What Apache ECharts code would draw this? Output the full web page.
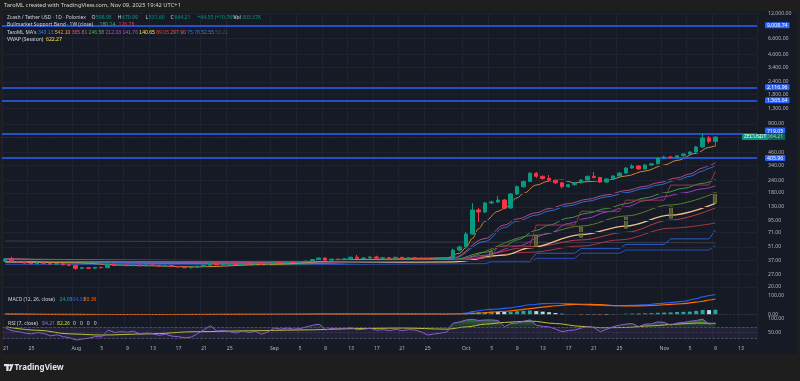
<!DOCTYPE html>
<html><head><meta charset="utf-8">
<script src="https://cdn.jsdelivr.net/npm/echarts@6/dist/echarts.min.js"></script>
<style>
html,body{margin:0;padding:0;background:#1e1e1e;}
#wrap{position:relative;width:800px;height:381px;overflow:hidden;}
#panel{position:absolute;left:3px;top:11px;width:794px;height:343px;background:#161a25;}
#c{position:absolute;left:0;top:0;width:800px;height:381px;}
</style>
</head><body><div id="wrap"><div id="panel"></div><div id="c"></div></div>
<script>
// ---------- categories ----------
const dayCount = 118; // Jul 21 .. Nov 15, 2025
const dates = [];
(function(){const d0=Date.UTC(2025,6,21);for(let i=0;i<dayCount;i++){dates.push(new Date(d0+i*86400000).toISOString().slice(0,10));}})();
const monthNames=['Jan','Feb','Mar','Apr','May','Jun','Jul','Aug','Sep','Oct','Nov','Dec'];
const labelDays=[1,5,9,13,17,21,25];

// ---------- daily candles (Jul 21 .. Nov 9) ----------
const opens  = [36.6,38.4,36.3,35.9,35.0,34.4,35.1,34.8,34.2,34.5,33.6,33.2,30.9,31.3,31.0,31.6,31.4,34.2,33.0,33.3,32.9,33.4,32.8,33.5,33.1,32.6,33.0,32.2,31.9,31.4,31.7,32.4,33.3,35.2,33.6,33.9,34.3,33.8,34.6,34.2,34.7,34.1,34.9,35.9,35.3,35.9,35.5,36.0,36.6,38.0,39.3,37.4,38.3,37.9,38.6,40.1,39.0,39.4,40.3,39.2,39.6,39.3,40.0,39.1,39.5,39.2,38.7,38.0,38.4,38.8,39.4,47.4,50.9,68.9,120.7,115.2,142.2,145.5,152.5,126.5,175.5,208.0,235.0,285.0,265.0,252.0,242.0,228.0,208.0,218.0,228.0,243.0,265.0,258.0,232.0,249.0,267.0,286.0,322.0,337.0,315.0,345.0,355.0,407.0,416.0,410.0,428.0,446.0,468.0,526.0,649.0,598.95];
const closes = [38.4,36.3,35.9,35.0,34.4,35.1,34.8,34.2,34.5,33.6,33.2,30.9,31.3,31.0,31.6,31.4,34.2,33.0,33.3,32.9,33.4,32.8,33.5,33.1,32.6,33.0,32.2,31.9,31.4,31.7,32.4,33.3,35.2,33.6,33.9,34.3,33.8,34.6,34.2,34.7,34.1,34.9,35.9,35.3,35.9,35.5,36.0,36.6,38.0,39.3,37.4,38.3,37.9,38.6,40.1,39.0,39.4,40.3,39.2,39.6,39.3,40.0,39.1,39.5,39.2,38.7,38.0,38.4,38.8,39.4,47.4,50.9,68.9,120.7,115.2,142.2,145.5,152.5,126.5,175.5,208.0,235.0,285.0,265.0,252.0,242.0,228.0,208.0,218.0,228.0,243.0,265.0,258.0,232.0,249.0,267.0,286.0,322.0,337.0,315.0,345.0,355.0,407.0,416.0,410.0,428.0,446.0,468.0,526.0,649.0,598.95,664.21];
const lows   = [35.8,35.9,35.2,34.6,33.9,34.0,34.2,33.6,33.8,33.2,32.6,30.0,30.3,30.5,30.7,30.9,31.0,32.6,32.7,32.5,32.6,32.5,32.6,32.8,32.3,32.4,31.8,31.4,31.0,30.7,31.3,32.1,33.0,33.2,33.3,33.6,33.4,33.5,33.8,34.0,33.7,33.9,34.6,35.0,35.1,35.2,35.2,35.7,36.3,37.7,37.0,37.1,37.5,37.6,38.3,38.6,38.7,39.0,38.8,38.9,38.9,39.0,38.7,38.8,38.8,38.2,37.6,37.7,38.1,38.5,39.0,46.0,50.0,67.5,91.0,112.0,139.0,142.0,123.0,125.0,171.0,203.0,232.0,256.0,245.0,236.0,222.0,200.0,203.0,214.0,224.0,240.0,252.0,228.0,228.0,245.0,262.0,280.0,316.0,308.0,310.0,340.0,350.0,398.0,400.0,402.0,420.0,436.0,460.0,515.0,570.0,531.60];
const highs  = [39.2,40.5,37.0,36.4,35.6,35.8,35.6,35.2,35.0,34.9,34.1,33.5,31.8,31.9,32.0,32.1,34.6,34.5,33.8,33.7,33.9,33.8,34.0,34.1,33.6,33.5,33.3,32.5,32.2,32.0,32.8,33.6,35.8,35.4,34.4,34.8,34.7,35.0,35.1,35.2,35.0,35.3,36.3,36.2,36.3,36.2,36.4,37.1,38.5,39.8,40.1,38.8,38.9,39.1,40.6,42.3,39.9,40.8,41.5,40.2,40.1,40.5,40.4,40.0,40.0,39.6,39.0,38.9,39.3,40.0,49.0,52.5,72.5,142.0,126.0,146.0,150.0,168.0,156.0,180.0,214.0,240.0,292.0,293.0,271.0,273.0,246.0,232.0,222.0,232.0,247.0,270.0,293.0,262.0,253.0,272.0,292.0,328.0,352.0,345.0,352.0,362.0,415.0,428.0,428.0,436.0,452.0,476.0,540.0,729.0,680.0,670.99];

// ---------- horizontal levels / ticks ----------
const levels = [9008.74, 2116.96, 1565.64, 719.05, 405.96];
const lastPrice = 664.21;
const priceTicks = [12000,6600,4600,3400,2400,1800,1300,900,460,340,240,180,130,95,71,51,37,27,20];
const macdTicks = [0,100];
const rsiTicks = [50,100];

// ---------- TaroML MA's (day index, value) ----------
const maOrange = [[0,37.5],[11,35],[20,33],[30,32],[42,34],[55,38],[69,39.4],[71,44],[72,50],[73,62],[74,78],[75,93],[77,117],[78,125],[80,160],[81,178],[83,216],[85,238],[87,243],[89,228],[91,234],[94,241],[97,267],[100,300],[103,345],[105,385],[108,454],[110,522],[111,542.10]];
const maPink   = [[0,39],[20,36],[42,35.5],[60,37.5],[70,39.5],[75,62],[78,85],[80,98],[83,113],[85,125],[88,140],[91,155],[94,172],[97,190],[100,210],[102,228],[105,255],[107,280],[109,322],[110,340],[111,365.81]];
const maBlue   = [[0,38.8],[20,35.5],[42,35],[60,37.5],[70,39],[75,58],[78,80],[80,93],[83,107],[85,118],[88,133],[91,148],[94,164],[97,181],[100,200],[102,216],[105,242],[107,265],[109,300],[110,320],[111,343.13]];
const maGreen  = [[0,37],[20,35],[42,34],[60,36],[70,38],[75,45],[78,52],[80,60],[83,75],[85,85],[88,100],[91,112],[94,125],[97,140],[100,160],[103,180],[106,200],[109,225],[111,246.58]];
const maPurple = [[0,37.5],[20,35.5],[42,34.5],[60,36],[70,37],[75,42],[80,52],[85,70],[88,88],[91,100],[94,115],[97,130],[100,150],[103,165],[106,180],[109,198],[111,212.03]];
const maRedStep= [[0,37],[42,35],[69,37],[76,40],[77,52],[82,52],[83,85],[89,85],[90,117],[96,117],[97,152],[103,152],[104,216],[110,216],[111,297.90]];
const maCream  = [[0,36],[42,35],[70,36],[78,42],[82,50],[90,68],[97,83],[104,107],[111,140.65]];
const maRed89  = [[0,36.5],[42,35.5],[70,37],[82,45],[90,52],[96,60],[104,79],[111,89.05]];
const maBlueStepA = [[0,36],[70,37],[82,37],[83,44],[89,44],[90,49],[96,49],[97,54],[103,54],[104,61.5],[110,61.5],[111,75.78]];
const maBlueStepB = [[0,34],[42,33.5],[75,34.5],[76,36],[82,36],[83,39],[89,39],[90,44],[96,44],[97,47.4],[110,47.4],[111,52.55]];
const maGray   = [[0,58.5],[111,56.21]];
// Bullmarket Support Band (1W)
const bandUpper = [[0,38.5],[42,37],[70,38],[83,67],[90,83],[97,105],[104,136],[111,180.14]];
const bandLower = [[0,37],[42,36],[70,37],[83,51.6],[90,60],[97,71.7],[104,95.6],[111,126.78]];
const bandBoxes = [[76,41,46],[83,51,67],[90,64,81],[97,79,102],[104,100,130],[111,142,180]];

// ---------- MACD ----------
const macdHist = [-0.6,-0.9,-1.1,-1.0,-0.8,-0.5,-0.4,-0.6,-0.5,-0.7,-0.8,
 -1.3,-1.2,-0.9,-0.6,-0.4,0.4,0.5,0.6,0.5,0.6,
 0.4,0.5,0.3,0.1,0.1,-0.2,-0.4,-0.6,-0.5,-0.2,
 0.3,0.8,0.6,0.5,0.4,0.2,0.3,0.2,0.2,0.0,
 0.2,0.4,0.3,0.3,0.2,0.3,0.5,0.8,1.0,0.6,
 0.6,0.4,0.4,0.6,0.5,0.4,0.5,0.3,0.2,0.1,
 0.1,-0.1,-0.1,-0.2,-0.3,-0.5,-0.5,-0.4,-0.2,
 1.0,2.0,4.0,9.0,10.0,12.0,14.0,13.0,12.0,14.0,16.0,18.0,20.0,17.0,14.0,11.0,7.0,3.0,1.0,-1.0,-3.0,-2.0,-2.0,-4.0,-3.0,-1.0,1.0,3.0,4.0,3.0,5.0,6.0,8.0,9.0,10.0,12.0,13.0,14.0,18.0,23.0,22.0,24.03];
const macdLine = [[0,0.8],[11,-1.5],[20,-1.2],[31,-0.5],[42,0.3],[50,1.5],[60,1.3],[69,0.6],[70,1.5],[71,3],[72,6],[73,14],[74,19],[75,24],[77,28],[79,34],[80,40],[82,50],[84,56],[86,58],[88,56],[90,51],[93,46],[96,45],[98,47],[100,50],[102,56],[104,62],[106,69],[108,82],[109,92],[110,99],[111,104.39]];
const macdSignal = [[0,1],[11,-0.5],[20,-1.4],[31,-0.8],[42,0],[50,0.8],[60,1.1],[69,0.8],[72,1.8],[74,6],[76,11],[78,16],[80,22],[82,30],[84,38],[86,45],[88,51],[90,53],[93,51],[96,45],[98,44],[100,45],[102,48],[104,52],[106,56],[108,64],[109,69],[110,75],[111,80.36]];

// ---------- RSI ----------
const rsi = [65,56,53,48,45,50,46,38,42,35,31,23,27,30,36,34,59,50,53,51,55,43,49,45,40,44,37,35,31,34,46,60,74,55,57,53,48,56,50,54,44,52,66,62,66,62,64,70,76,80,59,65,62,64,67,60,62,65,58,60,57,61,57,60,59,52,41,45,48,52,84,88,95,97,93,95,95,93,71,82,84,90,95,76,72,70,62,53,57,59,66,71,67,53,62,71,76,80,82,71,80,81,88,86,76,84,86,90,93,98,80,84.21];
const rsiMA = [[0,70],[5,58],[10,45],[15,41],[22,45],[30,53],[38,56],[46,59],[55,64],[62,66],[69,62],[72,70],[75,80],[78,86],[82,91],[86,82],[90,72],[93,67],[97,68],[101,74],[105,80],[108,84],[111,82.26]];

// ---------- build ----------
const FONT='"Noto Sans", Roboto, sans-serif';
const fmt2=v=>Number(v).toLocaleString('en-US',{minimumFractionDigits:2,maximumFractionDigits:2});
const showTick=(idx,val)=>labelDays.indexOf(+String(val).slice(8,10))>=0;
const candleData = opens.map((o,i)=>[o,closes[i],lows[i],highs[i]]);
const boxData = dates.map(()=>'-');
bandBoxes.forEach(b=>{boxData[b[0]]=[b[1],b[2],b[1],b[2]];});
const histData = macdHist.map((v,i)=>{const p=i>0?macdHist[i-1]:0;let c;
  if(v>=0) c = v>=p?'#26a69a':'#b2dfdb'; else c = v<p?'#ff5252':'#ffcdd2';
  return {value:v,itemStyle:{color:c}};});
const rsiBase = rsi.map(()=>70);
const rsiOver = rsi.map(v=>Math.max(v,70)-70);

function mkX(i,split){return {type:'category',gridIndex:i,data:dates,boundaryGap:true,
  axisLine:{show:false},axisTick:{show:false},
  axisLabel:{show:i===2,interval:showTick,color:'#b2b5be',fontSize:5.2,margin:4,fontFamily:FONT,
    formatter:v=>{const d=+v.slice(8,10);return d===1?monthNames[+v.slice(5,7)-1]:String(d);}},
  splitLine:{show:split!==false,interval:showTick,lineStyle:{color:'#1e2231',width:1}}};}
function mkY(i,type,min,max){return {type:type,gridIndex:i,position:'right',min:min,max:max,
  axisLine:{show:false},axisTick:{show:false},axisLabel:{show:false},splitLine:{show:false}};}
function maLine(name,pts,color,opts){return Object.assign({type:'line',name:name,xAxisIndex:0,yAxisIndex:0,data:pts,
  symbol:'none',smooth:0.35,smoothMonotone:'x',lineStyle:{color:color,width:1},z:3,silent:true},opts||{});}

const badge={position:'end',distance:8,fontSize:5.2,fontFamily:FONT,color:'#ffffff',padding:[1,2,0,2],borderRadius:1};
const mainRect={left:2,right:43,top:13,height:277};
const option={
  animation:false,
  backgroundColor:'transparent',
  textStyle:{fontFamily:FONT},
  // grid 3 is a twin of the price pane that carries the price scale for grid lines and tick labels
  grid:[mainRect,{left:2,right:43,top:290,height:27},{left:2,right:43,top:317,height:25},mainRect],
  xAxis:[mkX(0),mkX(1),mkX(2),mkX(3,false)],
  yAxis:[mkY(0,'log',18.64,12017),mkY(1,'value',-14.2,127.9),mkY(2,'value',16.1,105.4),mkY(3,'log',18.64,12017)],
  series:[
    {type:'line',name:'priceScale',xAxisIndex:3,yAxisIndex:3,data:[[0,closes[0]]],symbol:'none',lineStyle:{opacity:0},z:1,silent:true,
     markLine:{symbol:['none','none'],silent:true,animation:false,label:{show:false},
       lineStyle:{color:'#1e2231',width:1,type:'solid'},data:priceTicks.map(v=>({yAxis:v}))}},
    maLine('56.21',maGray,'#3a3e4b',{smooth:false}),
    maLine('52.55',maBlueStepB,'#2a4fb8',{smooth:false}),
    maLine('75.78',maBlueStepA,'#2f5cc9',{smooth:false}),
    maLine('89.05',maRed89,'#a8374b'),
    maLine('126.78',bandLower,'#c03a4e'),
    maLine('140.65',maCream,'#f0c98a',{lineStyle:{color:'#eac38a',width:1.3}}),
    maLine('180.14',bandUpper,'#5e7d34'),
    maLine('212.03',maPurple,'#9c3fbf'),
    maLine('246.58',maGreen,'#45944c'),
    maLine('297.90',maRedStep,'#96384a',{smooth:false}),
    maLine('343.13',maBlue,'#2f6fd6'),
    maLine('365.81',maPink,'#b24d7e'),
    maLine('542.10',maOrange,'#d08a2c'),
    {type:'candlestick',name:'band',xAxisIndex:0,yAxisIndex:0,data:boxData,barWidth:'55%',z:4,silent:true,
     itemStyle:{color:'rgba(110,112,48,0.7)',color0:'rgba(110,112,48,0.7)',borderColor:'#7c7f3a',borderColor0:'#7c7f3a',borderWidth:0.8}},
    {type:'candlestick',name:'ZECUSDT',xAxisIndex:0,yAxisIndex:0,data:candleData,barWidth:'62%',z:5,silent:true,
     itemStyle:{color:'#089981',color0:'#f23645',borderColor:'#089981',borderColor0:'#f23645',borderWidth:1},
     markLine:{symbol:['none','none'],silent:true,animation:false,
       label:Object.assign({formatter:p=>fmt2(p.value),backgroundColor:'#2962ff'},badge),
       lineStyle:{color:'#2962ff',width:1.5,type:'solid'},
       data:levels.map(v=>({yAxis:v,label:{verticalAlign: v===719.05?'bottom':'middle'}})).concat([
         {yAxis:lastPrice,lineStyle:{color:'#089981',type:'dotted',width:0.7,opacity:0.6},label:{backgroundColor:'#089981'}}
       ])}},
    {type:'bar',name:'hist',xAxisIndex:1,yAxisIndex:1,data:histData,barWidth:'62%',silent:true,
     markLine:{symbol:['none','none'],silent:true,label:{show:false},lineStyle:{color:'#434651',type:'dashed',width:0.6},data:[{yAxis:0}]}},
    {type:'line',name:'MACD',xAxisIndex:1,yAxisIndex:1,data:macdLine,symbol:'none',smooth:0.35,smoothMonotone:'x',lineStyle:{color:'#2962ff',width:1.1},silent:true},
    {type:'line',name:'Signal',xAxisIndex:1,yAxisIndex:1,data:macdSignal,symbol:'none',smooth:0.35,smoothMonotone:'x',lineStyle:{color:'#ff6d00',width:1.1},silent:true},
    {type:'line',name:'rsiBase',xAxisIndex:2,yAxisIndex:2,data:rsiBase,stack:'ob',symbol:'none',lineStyle:{opacity:0},silent:true,
     markArea:{silent:true,itemStyle:{color:'rgba(126,87,194,0.12)'},data:[[{yAxis:30},{yAxis:70}]]},
     markLine:{symbol:['none','none'],silent:true,label:{show:false},lineStyle:{color:'#5d606b',type:'dashed',width:0.7},data:[{yAxis:70},{yAxis:50,lineStyle:{opacity:0.5}},{yAxis:30}]}},
    {type:'line',name:'rsiOver',xAxisIndex:2,yAxisIndex:2,data:rsiOver,stack:'ob',symbol:'none',lineStyle:{opacity:0},silent:true,
     areaStyle:{color:new echarts.graphic.LinearGradient(0,0,0,1,[{offset:0,color:'rgba(76,175,80,0.85)'},{offset:1,color:'rgba(76,175,80,0.15)'}])}},
    {type:'line',name:'RSI MA',xAxisIndex:2,yAxisIndex:2,data:rsiMA,symbol:'none',smooth:0.35,smoothMonotone:'x',lineStyle:{color:'#bcc43a',width:1},silent:true},
    {type:'line',name:'RSI',xAxisIndex:2,yAxisIndex:2,data:rsi,symbol:'none',lineStyle:{color:'#8e5fd6',width:1},silent:true}
  ]
};

const chart=echarts.init(document.getElementById('c'),null,{renderer:'canvas',width:800,height:381});
chart.setOption(option);

// ---------- texts (added once the scales exist) ----------
const T='#d1d4dc', G='#089981';
function txt(x,y,s,fill,size,weight){return {type:'text',x:x,y:y,z:50,zlevel:1,silent:true,
  style:{text:s,fill:fill,fontSize:size||5.1,fontWeight:weight||'normal',fontFamily:FONT,verticalAlign:'middle'}};}
const graphics=[];
function axisLabels(yi,ticks){ticks.forEach(v=>{const y=chart.convertToPixel({yAxisIndex:yi},v);
  if(isFinite(y)) graphics.push(txt(768,y,fmt2(v),'#b2b5be',5.2));});}
axisLabels(3,priceTicks); axisLabels(1,macdTicks); axisLabels(2,rsiTicks);
const zec=txt(742,chart.convertToPixel({yAxisIndex:3},lastPrice),'ZECUSDT','#ffffff',5.2);
zec.style.backgroundColor='#089981'; zec.style.padding=[1,2,0,2]; zec.style.borderRadius=1; zec.z=60;
graphics.push(zec);
graphics.push(
  txt(4,5.5,'TaroML created with TradingView.com, Nov 09, 2025 19:42 UTC+1',T,5.8),
  txt(7,17.3,'Zcash / Tether USD · 1D · Poloniex',T,5.0),
  txt(91.5,17.3,'O',T), txt(95.8,17.3,'598.95',G),
  txt(117.8,17.3,'H',T), txt(122,17.3,'670.99',G),
  txt(145.5,17.3,'L',T), txt(148.8,17.3,'531.60',G),
  txt(170.5,17.3,'C',T), txt(174.5,17.3,'664.21',G),
  txt(197.5,17.3,'+64.55 (+10.76%)',G),
  txt(233.5,17.3,'Vol',T), txt(242,17.3,'303.37K',G),
  txt(7,24.3,'Bullmarket Support Band · 1W (close)',T,4.95), txt(99.5,24.3,'180.14','#4caf50'), txt(118.5,24.3,'126.78','#f23645'),
  txt(7,40,'VWAP (Session)',T), txt(46,40,'622.27','#f5e342'),
  txt(8,299.7,'MACD (12, 26, close)',T,4.95), txt(59.5,299.7,'24.03','#26a69a'), txt(69.5,299.7,'104.39','#2962ff'), txt(83.5,299.7,'80.36','#ff6d00'),
  txt(8,323.7,'RSI (7, close)',T), txt(42,323.7,'84.21','#9575cd'), txt(57,323.7,'82.26','#d4dc3c'), txt(73,323.7,'0   0   0   0',T)
);
graphics.push({type:'text',x:7,y:32.5,z:50,zlevel:1,silent:true,style:{fontSize:5.1,fontFamily:FONT,verticalAlign:'middle',
  text:"{a|TaroML MA's} {c1|343.13} {c2|542.10} {c3|365.81} {c4|246.58} {c5|212.03} {c6|141.76} {c7|140.65} {c8|89.05} {c9|297.90} {c10|75.78} {c11|52.55} {c12|56.21}",
  rich:{a:{fill:T,fontSize:5.1},c1:{fill:'#2f7cf0',fontSize:5.1},c2:{fill:'#f5a030',fontSize:5.1},c3:{fill:'#e0557a',fontSize:5.1},c4:{fill:'#4caf50',fontSize:5.1},c5:{fill:'#b04fc8',fontSize:5.1},c6:{fill:'#a855d8',fontSize:5.1},c7:{fill:'#f5e342',fontSize:5.1},c8:{fill:'#f23645',fontSize:5.1},c9:{fill:'#ef5a5a',fontSize:5.1},c10:{fill:'#2f6ff0',fontSize:5.1},c11:{fill:'#3f7be0',fontSize:5.1},c12:{fill:'#4a4e5a',fontSize:5.1}}}});
graphics.push(
  {type:'rect',z:50,zlevel:1,shape:{x:4,y:364,width:5,height:2.2},style:{fill:'#e0e3eb'}},
  {type:'rect',z:50,zlevel:1,shape:{x:6.3,y:364,width:2.3,height:7},style:{fill:'#e0e3eb'}},
  {type:'circle',z:50,zlevel:1,shape:{cx:10.2,cy:365.2,r:1.2},style:{fill:'#e0e3eb'}},
  {type:'polygon',z:50,zlevel:1,shape:{points:[[11.6,364],[13.6,364],[10.9,371],[8.9,371]]},style:{fill:'#e0e3eb'}},
  txt(14.5,368,'TradingView','#e0e3eb',8,'bold')
);
chart.setOption({graphic:graphics});
</script></body></html>
